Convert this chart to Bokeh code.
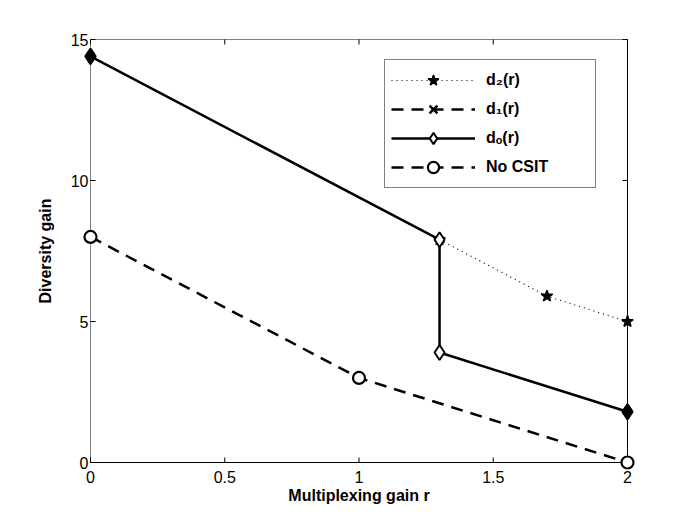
from bokeh.plotting import figure
from bokeh.models import ColumnDataSource, Legend, LegendItem, FixedTicker, Range1d
from bokeh.embed import file_html
from bokeh.resources import INLINE

# ---- data ----
r_do = [0.0, 1.3, 1.3, 2.0]
d_o = [14.4, 7.9, 3.9, 1.8]
r_d2 = [1.3, 1.7, 2.0]
d2 = [7.9, 5.9, 5.0]
r_d1 = [float("nan")]   # d1(r) has no visible points in this view
d1 = [float("nan")]
r_nocsit = [0.0, 1.0, 2.0]
nocsit = [8.0, 3.0, 0.0]
x_lim = [0, 2]
y_lim = [0, 15]
x_ticks = [0, 0.5, 1, 1.5, 2]
x_tick_labels = ["0", "0.5", "1", "1.5", "2"]
y_ticks = [0, 5, 10, 15]
y_tick_labels = ["0", "5", "10", "15"]
series_labels = ["d\u2082(r)", "d\u2081(r)", "d\u2092(r)", "No CSIT"]
x_title = "Multiplexing gain r"
y_title = "Diversity gain"

FONT = "Liberation Sans"
PX_X = 268.5   # pixels per x unit
PX_Y = 28.2    # pixels per y unit
# small padding so that markers on the box edges are not clipped
XPAD = 8 / PX_X
YPAD = 8 / PX_Y
TICK = 5

p = figure(width=692, height=521, output_backend="svg", toolbar_location=None,
           x_range=Range1d(x_lim[0] - XPAD, x_lim[1] + XPAD),
           y_range=Range1d(y_lim[0] - YPAD, y_lim[1] + YPAD),
           min_border_left=82, min_border_right=57, min_border_top=31, min_border_bottom=51)
p.outline_line_color = None
p.grid.visible = False
p.background_fill_color = "white"
p.border_fill_color = "white"

# axes (labels only; box and ticks drawn below)
for ax, ticks, labels in [(p.xaxis[0], x_ticks, x_tick_labels),
                          (p.yaxis[0], y_ticks, y_tick_labels)]:
    ax.ticker = FixedTicker(ticks=ticks)
    ax.major_label_overrides = {t: l for t, l in zip(ticks, labels)}
    ax.axis_line_color = None
    ax.major_tick_line_color = None
    ax.major_tick_in = 0
    ax.major_tick_out = 0
    ax.minor_tick_line_color = None
    ax.minor_tick_in = 0
    ax.minor_tick_out = 0
    ax.major_label_text_font = FONT
    ax.major_label_text_font_size = "16px"
    ax.major_label_text_color = "black"
    ax.axis_label_text_font = FONT
    ax.axis_label_text_font_size = "16px"
    ax.axis_label_text_font_style = "bold"
    ax.axis_label_text_color = "black"
p.xaxis.axis_label = x_title
p.yaxis.axis_label = y_title
p.xaxis.major_label_standoff = 0
p.xaxis.axis_label_standoff = 1
p.yaxis.major_label_standoff = -6
p.yaxis.axis_label_standoff = 14

# box
x0, x1 = x_lim
y0, y1 = y_lim
p.segment(x0=[x0, x0], y0=[y0, y1], x1=[x0, x1], y1=[y1, y1], line_color="#808080", line_width=1)
p.segment(x0=[x0, x1], y0=[y0, y0], x1=[x1, x1], y1=[y0, y1], line_color="black", line_width=1)
# inward ticks
dy = TICK / PX_Y
dx = TICK / PX_X
p.segment(x0=x_ticks, y0=[y0] * len(x_ticks), x1=x_ticks, y1=[y0 + dy] * len(x_ticks),
          line_color="black", line_width=1)
p.segment(x0=x_ticks, y0=[y1] * len(x_ticks), x1=x_ticks, y1=[y1 - dy] * len(x_ticks),
          line_color="black", line_width=1)
p.segment(x0=[x0] * len(y_ticks), y0=y_ticks, x1=[x0 + dx] * len(y_ticks), y1=y_ticks,
          line_color="black", line_width=1)
p.segment(x0=[x1] * len(y_ticks), y0=y_ticks, x1=[x1 - dx] * len(y_ticks), y1=y_ticks,
          line_color="black", line_width=1)

# d2 (dotted, star)
s_d2 = ColumnDataSource(dict(x=r_d2, y=d2))
l_d2 = p.line("x", "y", source=s_d2, line_color="black", line_width=1.2, line_dash="1 4")
m_d2 = p.scatter("x", "y", source=s_d2, marker="star", size=12,
                 fill_color="black", line_color="black", line_width=1.5)

# d1 (dashed, x)
s_d1 = ColumnDataSource(dict(x=r_d1, y=d1))
l_d1 = p.line("x", "y", source=s_d1, line_color="black", line_width=2.5, line_dash="12 8")
m_d1 = p.scatter("x", "y", source=s_d1, marker="x", size=9,
                 line_color="black", line_width=2.5)

# No CSIT (dashed, circle)
s_nc = ColumnDataSource(dict(x=r_nocsit, y=nocsit))
l_nc = p.line("x", "y", source=s_nc, line_color="black", line_width=2.5, line_dash="12 8")
m_nc = p.scatter("x", "y", source=s_nc, marker="circle", size=12,
                 fill_color="white", line_color="black", line_width=2.2)

# d_o (solid, diamond)
s_do = ColumnDataSource(dict(x=r_do, y=d_o))
l_do = p.line("x", "y", source=s_do, line_color="black", line_width=2.5)
m_do = p.scatter("x", "y", source=s_do, marker="diamond", size=15,
                 fill_color="white", line_color="black", line_width=2)
# end points drawn filled
ends = [0, len(r_do) - 1]
s_do_end = ColumnDataSource(dict(x=[r_do[i] for i in ends], y=[d_o[i] for i in ends]))
p.scatter("x", "y", source=s_do_end, marker="diamond", size=15,
          fill_color="black", line_color="black", line_width=2)

items = [
    LegendItem(label=series_labels[0], renderers=[l_d2, m_d2]),
    LegendItem(label=series_labels[1], renderers=[l_d1, m_d1]),
    LegendItem(label=series_labels[2], renderers=[l_do, m_do]),
    LegendItem(label=series_labels[3], renderers=[l_nc, m_nc]),
]
legend = Legend(items=items, location=(302, 282))
legend.border_line_color = "black"
legend.border_line_width = 1
legend.background_fill_color = "white"
legend.background_fill_alpha = 1
legend.label_text_font = FONT
legend.label_text_font_size = "16px"
legend.label_text_font_style = "bold"
legend.label_text_color = "black"
legend.glyph_width = 84
legend.glyph_height = 28
legend.label_height = 28
legend.label_width = 103
legend.label_standoff = 11
legend.padding = 6
legend.spacing = 1
legend.margin = 0
p.add_layout(legend, "center")

open("out.html", "w").write(file_html(p, INLINE))
